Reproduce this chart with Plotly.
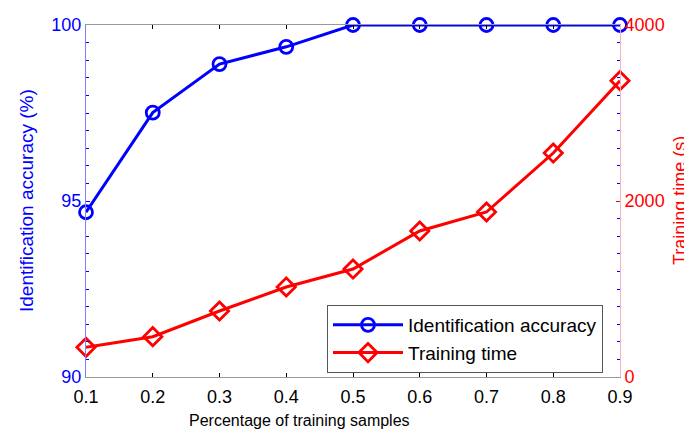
import plotly.graph_objects as go

x_vals = [0.1, 0.2, 0.3, 0.4, 0.5, 0.6, 0.7, 0.8, 0.9]
accuracy = [94.68, 97.51, 98.89, 99.38, 100, 100, 100, 100, 100]
train_time = [337, 458, 750, 1023, 1227, 1659, 1875, 2545, 3367]
x_ticks = [0.1, 0.2, 0.3, 0.4, 0.5, 0.6, 0.7, 0.8, 0.9]
x_tick_text = ["0.1", "0.2", "0.3", "0.4", "0.5", "0.6", "0.7", "0.8", "0.9"]

FONT = "Liberation Sans, Arial, sans-serif"
OFF = 8  # default page body margin
W, H = 692 - OFF, 431 - OFF
L, R, T, B = 86 - OFF, 620 - OFF, 25 - OFF, 377 - OFF

fig = go.Figure()
fig.add_trace(go.Scatter(
    x=x_vals, y=accuracy, name="Identification accuracy", mode="lines+markers",
    line=dict(color="#0000ff", width=3),
    marker=dict(symbol="circle-open", size=13, color="#0000ff", line=dict(width=2.8)),
    cliponaxis=False, yaxis="y"))
fig.add_trace(go.Scatter(
    x=x_vals, y=train_time, name="Training time", mode="lines+markers",
    line=dict(color="#ff0000", width=3),
    marker=dict(symbol="diamond-open", size=14, color="#ff0000", line=dict(width=2.8)),
    cliponaxis=False, yaxis="y2"))

pw, ph = R - L, B - T

fig.update_layout(
    width=W, height=H,
    margin=dict(l=L, r=W - R, t=T, b=H - B, autoexpand=False),
    paper_bgcolor="white", plot_bgcolor="white",
    font=dict(family=FONT, size=16, color="black"),
    showlegend=True,
    legend=dict(x=(327 - OFF - L) / pw, y=(B - (305 - OFF)) / ph, xanchor="left", yanchor="top",
                bgcolor="white", bordercolor="#555555", borderwidth=1,
                font=dict(size=19, family=FONT, color="black"),
                tracegroupgap=0, itemwidth=70),
    xaxis=dict(range=[0.1, 0.9], tickvals=x_ticks, ticktext=x_tick_text,
               ticks="inside", ticklen=4, tickcolor="black", tickwidth=1,
               showline=True, linecolor="#999999", linewidth=1, mirror="ticks",
               showgrid=False, zeroline=False, automargin=False, ticklabelstandoff=3,
               tickfont=dict(size=18, color="black")),
    yaxis=dict(range=[90, 100], tickvals=[90, 95, 100],
               ticks="inside", ticklen=4, tickcolor="#0000ff",
               showline=True, linecolor="#8080ff", linewidth=1, mirror="ticks",
               minor=dict(dtick=0.5, ticks="inside", ticklen=3, tickcolor="#0000ff"),
               showgrid=False, zeroline=False, automargin=False,
               tickfont=dict(size=18, color="#0000ff")),
    yaxis2=dict(range=[0, 4000], tickvals=[0, 2000, 4000], overlaying="y", side="right",
                ticks="inside", ticklen=4, tickcolor="#ff0000",
                showline=True, linecolor="#ffb0c0", linewidth=1,
                showgrid=False, zeroline=False, automargin=False,
                tickfont=dict(size=18, color="#ff0000")),
    annotations=[
        dict(text="Percentage of training samples", xref="paper", yref="paper",
             x=(299 - OFF - L) / pw, y=0, yshift=-(420 - OFF - B), xanchor="center", yanchor="middle",
             showarrow=False, font=dict(size=16, color="black", family=FONT)),
        dict(text="Identification accuracy (%)", xref="paper", yref="paper",
             x=0, xshift=(26 - OFF) - L, y=0.5, xanchor="center", yanchor="middle", textangle=-90,
             showarrow=False, font=dict(size=19, color="#0000ff", family=FONT)),
        dict(text="Training time (s)", xref="paper", yref="paper",
             x=1, xshift=(680 - OFF) - R, y=0.5, xanchor="center", yanchor="middle", textangle=-90,
             showarrow=False, font=dict(size=18, color="#ff0000", family=FONT)),
    ],
)

fig.write_html("out.html")
